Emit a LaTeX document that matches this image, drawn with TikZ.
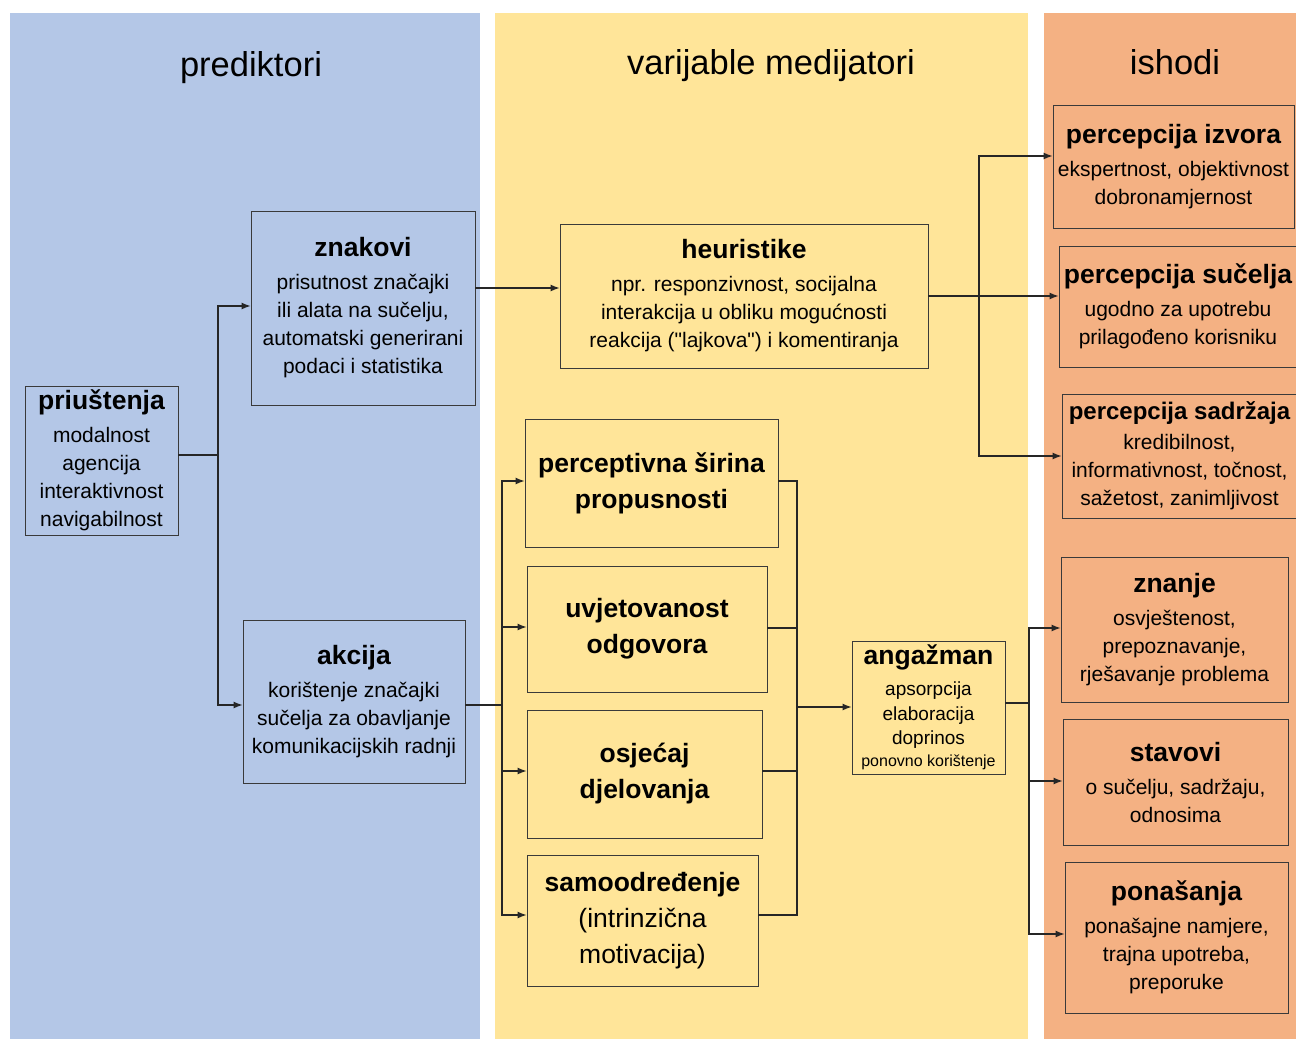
\documentclass[tikz,border=0pt]{standalone}
\usepackage{fontspec}
\setmainfont{Liberation Sans}
\usetikzlibrary{arrows.meta}
\definecolor{cblue}{HTML}{B4C7E7}
\definecolor{cyellow}{HTML}{FFE599}
\definecolor{corange}{HTML}{F4B183}
\definecolor{boxline}{HTML}{3A3A3A}
\newcommand\bodyfont{\fontsize{21}{28}\selectfont}
\newcommand\ttl[1]{{\fontsize{26.5}{28}\selectfont\bfseries #1}\\[5pt]}
\newcommand\sq{{\XeTeXglyph\XeTeXcharglyph"22\relax}}
\tikzset{
  box/.style={draw=boxline, line width=0.9pt, inner sep=0pt, align=center, font=\bodyfont},
  bx/.style n args={2}{minimum width=#1, minimum height=#2},
  conn/.style={draw=black!85, line width=1.2pt},
  arr/.style={conn, -{Latex[length=9pt,width=7pt]}},
  hdr/.style={anchor=base, font=\fontsize{34.5}{40}\selectfont},
  midbox/.style={box, font=\fontsize{26.5}{36}\selectfont}
}
\begin{document}
\begin{tikzpicture}[x=1pt,y=-1pt]
\useasboundingbox (0,0) rectangle (1296,1039);
\fill[cblue] (10,13) rectangle (480,1039);
\fill[cyellow] (495,13) rectangle (1028,1039);
\fill[corange] (1044,13) rectangle (1296,1039);

\node[hdr] (h1) at (251,76) {prediktori};
\node[hdr] (h2) at (771,74) {varijable medijatori};
\node[hdr] (h3) at (1175,74) {ishodi};

% predictors
\node[box, bx={153}{149}] (pri) at (101.5,460.5) {\ttl{priuštenja}modalnost\\agencija\\interaktivnost\\navigabilnost};
\node[box, bx={224}{194}] (zna) at (363,308) {\ttl{znakovi}prisutnost značajki\\ili alata na sučelju,\\automatski generirani\\podaci i statistika};
\node[box, bx={222}{163}] (akc) at (354,701.5) {\ttl{akcija}korištenje značajki\\sučelja za obavljanje\\komunikacijskih radnji};

% mediators
\node[box, bx={368}{144}] (heu) at (744,296) {\ttl{heuristike}npr. responzivnost, socijalna\\interakcija u obliku mogućnosti\\reakcija (\sq lajkova\sq) i komentiranja};
\node[midbox, bx={253}{128}] (per) at (651.5,483) {\bfseries perceptivna širina\\\bfseries propusnosti};
\node[midbox, bx={240}{126}] (uvj) at (647,629) {\bfseries uvjetovanost\\\bfseries odgovora};
\node[midbox, bx={235}{128}] (osj) at (644.5,774) {\bfseries osjećaj\\\bfseries djelovanja};
\node[midbox, bx={231}{131}] (sam) at (642.5,920.5) {\bfseries samoodređenje\\(intrinzična\\motivacija)};
\node[box, bx={153}{133}, font=\fontsize{19}{24.5}\selectfont] (ang) at (928.5,707.5) {{\fontsize{26.5}{28}\selectfont\bfseries angažman}\\[7pt]apsorpcija\\elaboracija\\doprinos\\[-2.5pt]{\fontsize{16}{20}\selectfont ponovno korištenje}};

% outcomes
\node[box, bx={241}{123}] (izv) at (1173.5,166.5) {\ttl{percepcija izvora}ekspertnost, objektivnost\\dobronamjernost};
\node[box, bx={238}{121}] (suc) at (1178,306.5) {\ttl{percepcija sučelja}ugodno za upotrebu\\prilagođeno korisniku};
\node[box, bx={235}{124}] (sad) at (1179.5,456) {{\fontsize{24}{28}\selectfont\bfseries percepcija sadržaja}\\[2pt]kredibilnost,\\informativnost, točnost,\\sažetost, zanimljivost};
\node[box, bx={227}{145}] (znj) at (1174.5,629.5) {\ttl{znanje}osvještenost,\\prepoznavanje,\\rješavanje problema};
\node[box, bx={225}{126}] (sta) at (1175.5,782) {\ttl{stavovi}o sučelju, sadržaju,\\odnosima};
\node[box, bx={223}{151}] (pon) at (1176.5,937.5) {\ttl{ponašanja}ponašajne namjere,\\trajna upotreba,\\preporuke};

% bus points
\coordinate (b1) at (218,455);
\coordinate (b2) at (979,296);
\coordinate (b3) at (502,705);
\coordinate (b4) at (797,707);
\coordinate (b5) at (1029,703);

% connectors: predictors
\draw[conn] (pri.east |- b1) -- (b1);
\draw[arr] (b1) |- (zna.west |- 0,306);
\draw[arr] (b1) |- (akc.west |- 0,705);
\draw[arr] (zna.east |- 0,288) -- (heu.west |- 0,288);

% heuristike to perceptions
\draw[conn] (heu.east |- b2) -- (b2);
\draw[arr] (b2) -- (suc.west |- b2);
\draw[arr] (b2) |- (izv.west |- 0,156);
\draw[arr] (b2) |- (sad.west |- 0,456);

% akcija to mediators
\draw[conn] (akc.east |- b3) -- (b3);
\draw[arr] (b3) |- (per.west |- 0,481);
\draw[arr] (b3) |- (uvj.west |- 0,627);
\draw[arr] (b3) |- (osj.west |- 0,771);
\draw[arr] (b3) |- (sam.west |- 0,915);

% mediators to engagement
\draw[conn] (per.east |- 0,481) -| (b4);
\draw[conn] (uvj.east |- 0,628) -| (b4);
\draw[conn] (osj.east |- 0,771) -| (b4);
\draw[conn] (sam.east |- 0,915) -| (b4);
\draw[arr] (b4) -- (ang.west |- b4);

% engagement to outcomes
\draw[conn] (ang.east |- b5) -- (b5);
\draw[arr] (b5) |- (znj.west |- 0,628);
\draw[arr] (b5) |- (sta.west |- 0,781);
\draw[arr] (b5) |- (pon.west |- 0,934);
\end{tikzpicture}
\end{document}
